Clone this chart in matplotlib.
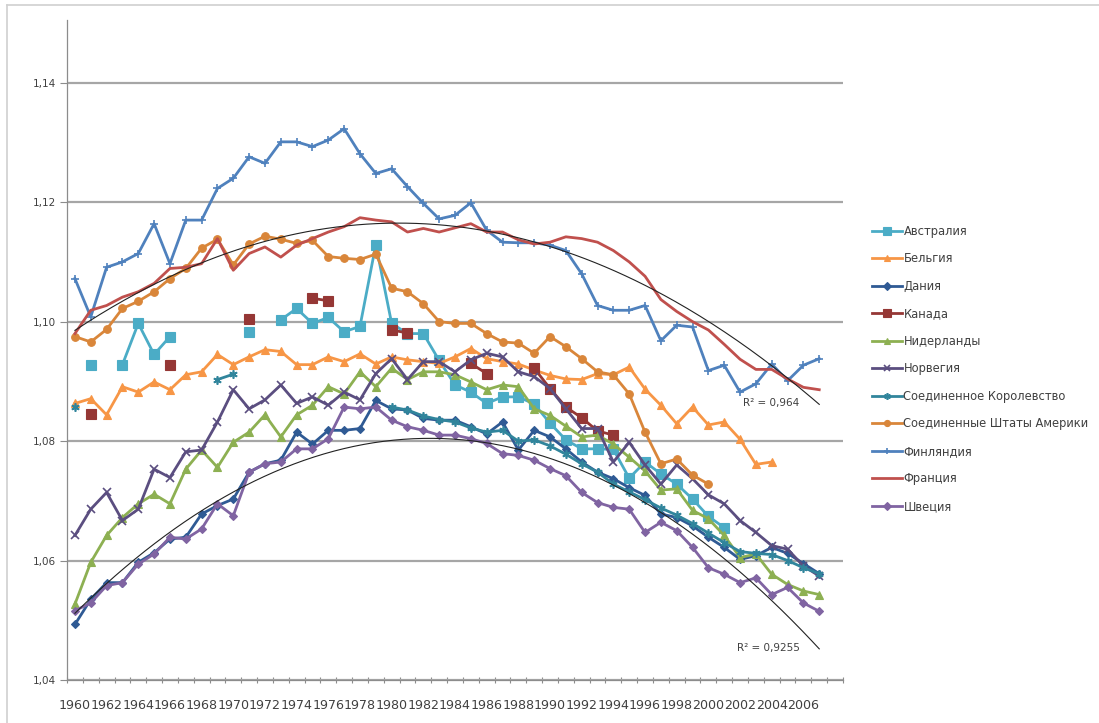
import numpy as np
import matplotlib
matplotlib.use("Agg")
import matplotlib.pyplot as plt
from matplotlib.ticker import FixedLocator, FuncFormatter
from matplotlib.lines import Line2D

nan = float("nan")

# категории оси: 1960-2008, данные до 2007
years = list(range(1960, 2009))
tick_years = list(range(1960, 2007, 2))

australia = [nan, 1.0928, nan, 1.0928, 1.0997, 1.0945, 1.0975, nan, nan, nan,
             nan, 1.0983, nan, 1.1003, 1.1022, 1.0997, 1.1007, 1.0983, 1.0992, 1.1129,
             1.0997, 1.0980, 1.0980, 1.0935, 1.0894, 1.0882, 1.0863, 1.0874, 1.0874, 1.0862,
             1.0830, 1.0802, 1.0787, 1.0787, 1.0786, 1.0738, 1.0765, 1.0745, 1.0728, 1.0703,
             1.0674, 1.0655]
belgium = [1.0863, 1.0871, 1.0844, 1.0891, 1.0882, 1.0899, 1.0886, 1.0911, 1.0916, 1.0945,
           1.0928, 1.0941, 1.0953, 1.0950, 1.0928, 1.0928, 1.0941, 1.0933, 1.0946, 1.0929,
           1.0941, 1.0936, 1.0933, 1.0930, 1.0941, 1.0955, 1.0938, 1.0933, 1.0929, 1.0919,
           1.0910, 1.0904, 1.0903, 1.0913, 1.0911, 1.0924, 1.0887, 1.0860, 1.0829, 1.0857,
           1.0827, 1.0832, 1.0803, 1.0761, 1.0765]
denmark = [1.0493, 1.0535, 1.0563, 1.0563, 1.0597, 1.0613, 1.0636, 1.0639, 1.0678, 1.0692,
           1.0703, 1.0748, 1.0762, 1.0768, 1.0815, 1.0795, 1.0818, 1.0818, 1.0821, 1.0868,
           1.0854, 1.0852, 1.0838, 1.0835, 1.0835, 1.0824, 1.0812, 1.0832, 1.0785, 1.0818,
           1.0807, 1.0787, 1.0765, 1.0748, 1.0737, 1.0722, 1.0709, 1.0678, 1.0672, 1.0658,
           1.0639, 1.0622, 1.0602, 1.0608, 1.0622, 1.0612, 1.0595, 1.0578]
canada = [nan, 1.0846, nan, nan, nan, nan, 1.0928, nan, nan, nan,
          nan, 1.1004, nan, nan, nan, 1.1039, 1.1035, nan, nan, nan,
          1.0986, 1.0981, nan, nan, nan, 1.0930, 1.0913, nan, nan, 1.0922,
          1.0888, 1.0857, 1.0839, 1.0817, 1.0810]
netherlands = [1.0527, 1.0597, 1.0642, 1.0672, 1.0695, 1.0711, 1.0695, 1.0753, 1.0785, 1.0756,
               1.0798, 1.0815, 1.0844, 1.0807, 1.0844, 1.0860, 1.0891, 1.0879, 1.0916, 1.0891,
               1.0922, 1.0903, 1.0916, 1.0916, 1.0911, 1.0899, 1.0886, 1.0894, 1.0891, 1.0854,
               1.0843, 1.0825, 1.0807, 1.0810, 1.0795, 1.0773, 1.0750, 1.0718, 1.0720, 1.0684,
               1.0670, 1.0642, 1.0605, 1.0611, 1.0577, 1.0560, 1.0549, 1.0543]
norway = [1.0642, 1.0686, 1.0714, 1.0667, 1.0686, 1.0753, 1.0739, 1.0782, 1.0785, 1.0832,
          1.0886, 1.0854, 1.0869, 1.0894, 1.0863, 1.0874, 1.0860, 1.0882, 1.0869, 1.0913,
          1.0938, 1.0903, 1.0933, 1.0933, 1.0916, 1.0936, 1.0947, 1.0941, 1.0916, 1.0908,
          1.0888, 1.0854, 1.0821, 1.0821, 1.0765, 1.0798, 1.0760, 1.0728, 1.0760, 1.0737,
          1.0710, 1.0695, 1.0667, 1.0647, 1.0625, 1.0619, 1.0591, 1.0574]
uk = [1.0857, nan, nan, nan, nan, nan, nan, nan, nan, 1.0903,
      1.0912, nan, nan, nan, nan, nan, nan, nan, nan, nan,
      1.0857, 1.0852, 1.0842, 1.0836, 1.0832, 1.0822, 1.0815, 1.0818, 1.0800, 1.0802,
      1.0792, 1.0778, 1.0762, 1.0748, 1.0728, 1.0715, 1.0702, 1.0688, 1.0676, 1.0662,
      1.0646, 1.0630, 1.0615, 1.0612, 1.0610, 1.0600, 1.0588, 1.0578]
usa = [1.0975, 1.0966, 1.0987, 1.1022, 1.1034, 1.1050, 1.1072, 1.1089, 1.1123, 1.1138,
       1.1095, 1.1130, 1.1143, 1.1138, 1.1131, 1.1136, 1.1109, 1.1106, 1.1104, 1.1113,
       1.1056, 1.1050, 1.1030, 1.1000, 1.0997, 1.0997, 1.0980, 1.0966, 1.0964, 1.0947,
       1.0975, 1.0958, 1.0938, 1.0916, 1.0911, 1.0879, 1.0815, 1.0762, 1.0770, 1.0743,
       1.0728]
finland = [1.1072, 1.1008, 1.1091, 1.1100, 1.1114, 1.1164, 1.1097, 1.1170, 1.1170, 1.1223,
           1.1240, 1.1276, 1.1265, 1.1301, 1.1301, 1.1293, 1.1304, 1.1323, 1.1281, 1.1248,
           1.1256, 1.1226, 1.1198, 1.1172, 1.1178, 1.1199, 1.1153, 1.1133, 1.1132, 1.1132,
           1.1128, 1.1119, 1.1080, 1.1027, 1.1019, 1.1019, 1.1027, 1.0968, 1.0994, 1.0991,
           1.0918, 1.0927, 1.0882, 1.0896, 1.0929, 1.0901, 1.0927, 1.0938]
france = [1.0980, 1.1019, 1.1027, 1.1041, 1.1050, 1.1064, 1.1089, 1.1091, 1.1097, 1.1139,
          1.1086, 1.1114, 1.1125, 1.1108, 1.1128, 1.1139, 1.1150, 1.1159, 1.1174, 1.1170,
          1.1167, 1.1150, 1.1156, 1.1150, 1.1157, 1.1164, 1.1150, 1.1150, 1.1137, 1.1130,
          1.1133, 1.1142, 1.1139, 1.1133, 1.1119, 1.1100, 1.1076, 1.1037, 1.1017, 1.1000,
          1.0986, 1.0962, 1.0937, 1.0920, 1.0920, 1.0904, 1.0890, 1.0886]
sweden = [1.0516, 1.0529, 1.0558, 1.0563, 1.0594, 1.0611, 1.0639, 1.0636, 1.0653, 1.0695,
          1.0675, 1.0748, 1.0762, 1.0765, 1.0787, 1.0787, 1.0804, 1.0857, 1.0854, 1.0857,
          1.0835, 1.0824, 1.0818, 1.0810, 1.0810, 1.0804, 1.0796, 1.0779, 1.0776, 1.0768,
          1.0754, 1.0742, 1.0714, 1.0697, 1.0689, 1.0686, 1.0647, 1.0664, 1.0650, 1.0622,
          1.0588, 1.0577, 1.0563, 1.0571, 1.0543, 1.0555, 1.0529, 1.0515]

names = ["Австралия", "Бельгия", "Дания", "Канада", "Нидерланды", "Норвегия",
         "Соединенное Королевство", "Соединенные Штаты Америки", "Финляндия",
         "Франция", "Швеция"]
series = [australia, belgium, denmark, canada, netherlands, norway, uk, usa,
          finland, france, sweden]
colors = ["#4bacc6", "#f79646", "#2f5a94", "#953735", "#8db052", "#5b4e80",
          "#31859c", "#d9863a", "#4f81bd", "#c0504d", "#8064a2"]
markers = ["s", "^", "D", "s", "^", "x", (6, 2, 0), "o", "+", "", "D"]
msizes = [6.5, 6, 4.5, 6.5, 6, 5.5, 6, 5.5, 6, 0, 4.5]

r2_labels = ["R² = 0,964", "R² = 0,9255"]


def pad(vals):
    arr = np.full(len(years), np.nan)
    arr[:len(vals)] = vals
    return arr


fig = plt.figure(figsize=(10.99, 7.23), dpi=100)
ax = fig.add_axes([67 / 1099, 43 / 723, 776 / 1099, 660 / 723])

x = np.array(years, dtype=float)
handles = []
for i, (nm, vals) in enumerate(zip(names, series)):
    y = pad(vals)
    mk = markers[i]
    ln, = ax.plot(x, y, color=colors[i], lw=2.0, marker=mk if mk != "" else None,
                  ms=msizes[i], mec=colors[i], mfc=colors[i],
                  mew=1.2 if mk in ("x", "+") or isinstance(mk, tuple) else 0.8,
                  zorder=3 + i, label=nm, solid_joinstyle="round")
    handles.append(ln)

# полиномиальные линии тренда (2-я степень)
xt = np.linspace(1960, 2007, 300)
c_up = np.polyfit(np.arange(len(france)), france, 2)
c_lo = np.polyfit(np.arange(len(sweden)), sweden, 2)
ax.plot(xt, np.polyval(c_up, xt - 1960), color="#222222", lw=0.8, zorder=20)
ax.plot(xt, np.polyval(c_lo, xt - 1960), color="#222222", lw=0.8, zorder=20)
ax.text(2002.2, 1.0863, r2_labels[0], fontsize=7.5, color="#404040", va="center", zorder=21)
ax.text(2001.8, 1.0454, r2_labels[1], fontsize=7.5, color="#404040", va="center", zorder=21)

ax.set_xlim(1959.5, 2008.5)
ax.set_ylim(1.04, 1.1505)
ax.set_yticks([1.04, 1.06, 1.08, 1.10, 1.12, 1.14])
ax.yaxis.set_major_formatter(FuncFormatter(lambda v, p: f"{v:.2f}".replace(".", ",")))
ax.yaxis.grid(True, color="#a6a6a6", lw=1.6)
ax.set_axisbelow(True)

ax.xaxis.set_major_locator(FixedLocator(tick_years))
ax.set_xticklabels([str(t) for t in tick_years])
ax.xaxis.set_minor_locator(FixedLocator(np.arange(1959.5, 2009, 1.0)))
ax.tick_params(axis="x", which="major", length=0, labelsize=9.1, colors="#404040", pad=14)
ax.tick_params(axis="x", which="minor", length=5, direction="inout", color="#8c8c8c", width=0.8)
ax.tick_params(axis="y", length=5, direction="out", color="#8c8c8c", width=0.8,
               labelsize=7.5, labelcolor="#404040", pad=3)

for s in ("top", "right"):
    ax.spines[s].set_visible(False)
for s in ("left", "bottom"):
    ax.spines[s].set_color("#8c8c8c")
    ax.spines[s].set_linewidth(0.9)

leg = fig.legend(handles=handles, loc="upper left", bbox_to_anchor=(866 / 1099, 1 - 219 / 723),
                 frameon=False, fontsize=8.3, handlelength=2.6, handletextpad=0.15,
                 labelspacing=1.26, borderpad=0, numpoints=1, markerscale=0.8)
for t in leg.get_texts():
    t.set_color("#404040")

# рамка области диаграммы
fig.add_artist(Line2D([7 / 1099, 7 / 1099], [0, 1 - 5 / 723], color="#d0d0d0", lw=1.2))
fig.add_artist(Line2D([7 / 1099, 1], [1 - 5 / 723, 1 - 5 / 723], color="#d0d0d0", lw=1.2))

fig.savefig("out.png", dpi=100)
